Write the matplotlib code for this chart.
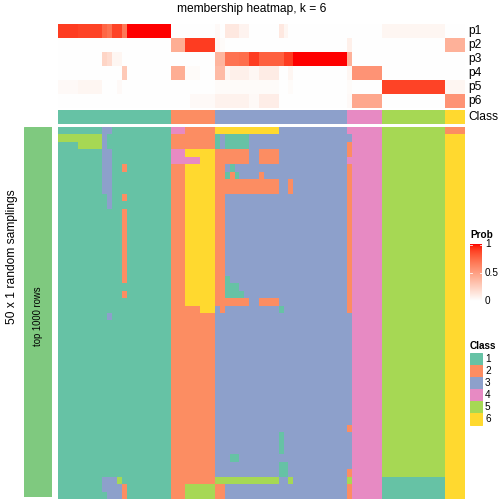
import numpy as np
import matplotlib
matplotlib.use("Agg")
import matplotlib.pyplot as plt
from matplotlib.colors import ListedColormap
from matplotlib.patches import Rectangle

plt.rcParams['font.family'] = ['Liberation Sans', 'DejaVu Sans']

# ---------------- data ----------------
title = "membership heatmap, k = 6"
row_names = ["p1", "p2", "p3", "p4", "p5", "p6"]
class_labels = ["1", "2", "3", "4", "5", "6"]
class_colors = ["#66C2A5", "#FC8D62", "#8DA0CB", "#E78AC3", "#A6D854", "#FFD92F"]
left_label = "50 x 1 random samplings"
bar_label = "top 1000 rows"
n_samplings = 50

# class of each column (83 samples)
column_class = [1] * 23 + [2] * 9 + [3] * 27 + [4] * 7 + [5] * 13 + [6] * 4

p1 = [0.9, 0.9, 0.9, 0.9, 0.88, 0.88, 0.88, 0.88, 0.88, 0.75, 0.7, 0.88, 0.88, 0.68,
      1, 1, 1, 1, 1, 1, 1, 1, 1,
      0, 0, 0, 0, 0, 0, 0, 0, 0,
      0.03, 0, 0.12, 0.12, 0.12, 0.06, 0.06, 0, 0, 0, 0, 0, 0, 0.12, 0.05,
      0, 0, 0, 0, 0, 0, 0, 0, 0, 0, 0, 0,
      0, 0, 0, 0, 0, 0, 0,
      0.05, 0.05, 0.05, 0.05, 0.05, 0.05, 0.05, 0.05, 0.05, 0.05, 0.05, 0.05, 0.05,
      0, 0, 0, 0]
p2 = [0] * 23 + \
     [0.42, 0.42, 0.42, 0.9, 0.9, 0.9, 0.9, 0.9, 0.9] + \
     [0.04, 0.02] + [0] * 25 + \
     [0.08, 0, 0, 0, 0, 0, 0] + \
     [0] * 13 + \
     [0.4, 0.4, 0.4, 0.4]
p3 = [0, 0, 0, 0, 0, 0, 0, 0, 0, 0.22, 0.18, 0.05, 0.05, 0, 0, 0, 0, 0, 0, 0, 0, 0, 0] + \
     [0] * 9 + \
     [0.38, 0.38, 0.7, 0.7, 0.7, 0.72, 0.72, 0.9, 0.9, 0.78, 0.78, 0.78, 0.78, 0.78,
      0.9, 0.9, 1, 1, 1, 1, 1, 1, 1, 1, 1, 1, 1] + \
     [0.4, 0, 0, 0, 0, 0, 0] + \
     [0] * 13 + [0] * 4
p4 = [0, 0, 0, 0, 0, 0, 0, 0, 0, 0, 0, 0, 0, 0.28, 0, 0, 0, 0, 0, 0, 0, 0, 0] + \
     [0.42, 0.42, 0.42, 0.02, 0.02, 0.02, 0, 0, 0] + \
     [0.35, 0.35, 0.05, 0.08, 0.08, 0.08, 0.08, 0.04, 0.04, 0.1, 0.1, 0.1, 0.1, 0, 0,
      0.05, 0, 0, 0, 0, 0, 0, 0, 0, 0, 0, 0] + \
     [0.05, 0.55, 0.55, 0.55, 0.55, 0.55, 0.55] + \
     [0] * 13 + [0] * 4
p5 = [0.03, 0.03, 0.03, 0.03, 0.05, 0.05, 0.05, 0.05, 0.05, 0, 0, 0, 0.03,
      0, 0, 0, 0, 0, 0, 0, 0, 0, 0] + \
     [0] * 9 + \
     [0.02] * 13 + [0, 0, 0.02] + [0] * 11 + \
     [0.02, 0, 0, 0, 0, 0, 0] + \
     [0.88] * 13 + \
     [0.05, 0.05, 0.05, 0.05]
p6 = [0] * 23 + \
     [0, 0, 0, 0, 0.03, 0.03, 0.03, 0.03, 0.03] + \
     [0.07] * 7 + [0.03, 0.03] + [0.09] * 4 + [0] * 14 + \
     [0.03, 0.45, 0.45, 0.45, 0.45, 0.45, 0.45] + \
     [0] * 13 + \
     [0.55, 0.55, 0.55, 0.55]

# deviations of the 50 samplings from the consensus class:
# (first_row, last_row, first_col, last_col, class)
sampling_overrides = [
    (0, 0, 9, 10, 3), (1, 1, 0, 8, 5), (1, 2, 9, 9, 3), (2, 2, 4, 8, 5),
    (3, 8, 9, 10, 3), (9, 10, 10, 10, 3), (25, 25, 10, 10, 3),
    (5, 5, 13, 13, 2), (9, 9, 13, 13, 2), (11, 20, 13, 13, 2), (22, 22, 13, 13, 2),
    (47, 47, 9, 11, 3), (47, 47, 12, 12, 5), (48, 48, 9, 12, 3), (48, 49, 13, 13, 2),
    (49, 49, 10, 12, 3),
    (0, 0, 23, 25, 4), (3, 3, 23, 25, 4), (3, 3, 26, 31, 6), (4, 4, 23, 28, 4),
    (4, 4, 29, 31, 6), (5, 23, 26, 31, 6), (24, 24, 29, 31, 6), (48, 49, 26, 31, 5),
    (0, 0, 32, 44, 6), (1, 2, 32, 32, 1), (1, 2, 34, 38, 1), (3, 4, 32, 38, 2),
    (3, 4, 41, 44, 2), (5, 6, 32, 33, 2), (5, 5, 35, 35, 1), (6, 6, 34, 34, 1),
    (6, 6, 35, 35, 2), (6, 6, 36, 36, 1), (6, 6, 41, 41, 2), (7, 8, 32, 44, 2),
    (7, 8, 47, 47, 2), (9, 22, 32, 33, 2), (20, 20, 34, 34, 1), (21, 21, 34, 36, 1),
    (22, 22, 34, 37, 1), (23, 23, 32, 38, 2), (23, 23, 41, 44, 2), (24, 24, 33, 33, 2),
    (24, 24, 45, 45, 1), (41, 43, 45, 45, 1), (44, 44, 35, 36, 1), (45, 46, 45, 46, 1),
    (47, 47, 32, 44, 5), (47, 47, 47, 47, 5), (48, 49, 32, 33, 2),
    (1, 1, 59, 59, 3), (2, 3, 59, 59, 2), (5, 24, 59, 59, 2), (25, 39, 59, 59, 3),
    (40, 40, 59, 59, 2), (41, 45, 59, 59, 3), (46, 46, 59, 59, 2), (47, 47, 59, 59, 5),
    (48, 49, 59, 59, 2),
    (47, 49, 66, 78, 1),
    (0, 0, 79, 82, 2),
]

# ---------------- helpers ----------------
W = H = 504


def lab2rgb(lab):
    L, a, b = lab[..., 0], lab[..., 1], lab[..., 2]
    fy = (L + 16) / 116
    fx = fy + a / 500
    fz = fy - b / 200
    d = 6 / 29

    def finv(t):
        return np.where(t > d, t ** 3, 3 * d * d * (t - 4 / 29))
    X = 0.95047 * finv(fx)
    Y = finv(fy)
    Z = 1.08883 * finv(fz)
    M = np.array([[3.2406, -1.5372, -0.4986],
                  [-0.9689, 1.8758, 0.0415],
                  [0.0557, -0.2040, 1.0570]])
    lin = np.clip(np.stack([X, Y, Z], -1) @ M.T, 0, 1)
    rgb = np.where(lin <= 0.0031308, 12.92 * lin, 1.055 * lin ** (1 / 2.4) - 0.055)
    return np.clip(rgb, 0, 1)


t = np.linspace(0, 1, 256)[:, None]
lab_white = np.array([100.0, 0.0, 0.0])
lab_red = np.array([53.2408, 80.0925, 67.2032])
prob_cmap = ListedColormap(lab2rgb(lab_white * (1 - t) + lab_red * t))
class_cmap = ListedColormap(class_colors)


def ax_px(x0, y0, x1, y1):
    a = fig.add_axes([x0 / W, 1 - y1 / H, (x1 - x0) / W, (y1 - y0) / H])
    a.set_axis_off()
    return a


fig = plt.figure(figsize=(W / 72, H / 72), dpi=72)

# membership rows
P = np.array([p1, p2, p3, p4, p5, p6])
ax = ax_px(58, 24, 465, 108)
ax.imshow(P, cmap=prob_cmap, vmin=0, vmax=1, aspect='auto', interpolation='nearest')

# class annotation
cc = np.array(column_class)
ax = ax_px(58, 110, 465, 124)
ax.imshow(cc[None, :], cmap=class_cmap, vmin=0.5, vmax=6.5, aspect='auto',
          interpolation='nearest')

# main sampling heatmap
Mat = np.tile(cc, (n_samplings, 1))
for r0, r1, c0, c1, k in sampling_overrides:
    Mat[r0:r1 + 1, c0:c1 + 1] = k
ax = ax_px(58, 127, 465, 499)
ax.imshow(Mat, cmap=class_cmap, vmin=0.5, vmax=6.5, aspect='auto',
          interpolation='nearest')

# left annotation bar
ax = ax_px(24, 127, 52, 497)
ax.add_patch(Rectangle((0, 0), 1, 1, color="#7FC97F", transform=ax.transAxes))
ax.text(0.5, 0.49, bar_label, rotation=90, ha='center', va='center', fontsize=9.5,
        transform=ax.transAxes)

fig.text(12 / W, 1 - 257 / H, left_label, rotation=90, ha='center', va='center',
         fontsize=12)
fig.text(252 / W, 1 - 9 / H, title, ha='center', va='center', fontsize=12)

for i, name in enumerate(row_names):
    fig.text(468 / W, 1 - (24 + 14 * i + 7) / H, name, ha='left', va='center',
             fontsize=12)
fig.text(468 / W, 1 - 117 / H, "Class", ha='left', va='center', fontsize=12)

# Prob legend
fig.text(470 / W, 1 - 235 / H, "Prob", ha='left', va='center', fontsize=10,
         fontweight='bold')
ax = ax_px(470, 244, 482, 301)
ax.imshow(np.linspace(1, 0, 100)[:, None], cmap=prob_cmap, vmin=0, vmax=1,
          aspect='auto', extent=(0, 1, 0, 1))
for v in [0.5, 0.985]:
    ax.plot([0, 0.2], [v, v], color='white', lw=0.8)
    ax.plot([0.8, 1], [v, v], color='white', lw=0.8)
ax.set_xlim(0, 1)
ax.set_ylim(0, 1)
for v, lab in [(244, "1"), (272.5, "0.5"), (301, "0")]:
    fig.text(485 / W, 1 - v / H, lab, ha='left', va='center', fontsize=10)

# Class legend
fig.text(470 / W, 1 - 346 / H, "Class", ha='left', va='center', fontsize=10,
         fontweight='bold')
for i, (lab, col) in enumerate(zip(class_labels, class_colors)):
    yc = 359 + 12 * i
    fig.patches.append(Rectangle((470 / W, 1 - (yc + 6) / H), 12 / W, 12 / H,
                                 color=col, transform=fig.transFigure, figure=fig))
    fig.text(485 / W, 1 - yc / H, lab, ha='left', va='center', fontsize=10)

fig.savefig("out.png", dpi=72)
